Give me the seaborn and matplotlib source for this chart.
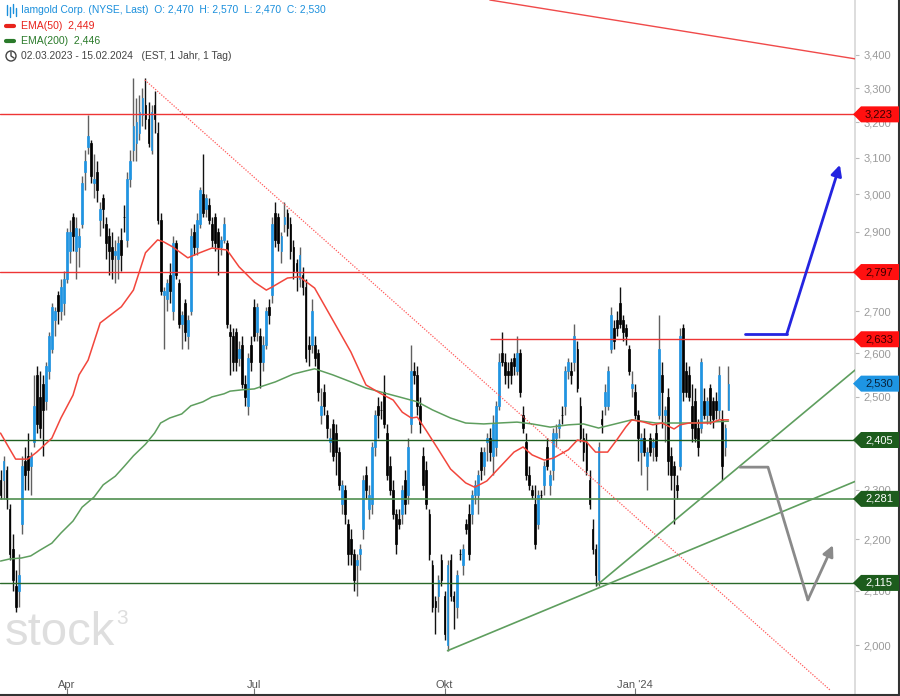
import numpy as np
import pandas as pd
import matplotlib
matplotlib.use("Agg")
import matplotlib.pyplot as plt
import matplotlib.ticker as mticker
from matplotlib.patches import Polygon, Circle
from matplotlib.lines import Line2D
from matplotlib.transforms import IdentityTransform
import seaborn as sns

# ── data: daily OHLC, Iamgold (NYSE), 02.03.2023 - 15.02.2024 ───────────────
holidays = ["2023-04-07", "2023-05-29", "2023-06-19", "2023-07-04", "2023-09-04",
            "2023-11-23", "2023-12-25", "2024-01-01", "2024-01-15"]

open_ = [
    2.32, 2.32, 2.34, 2.26, 2.18, 2.11, 2.10, 2.23, 2.36, 2.37,
    2.35, 2.40, 2.55, 2.50, 2.53, 2.49, 2.56, 2.61, 2.68, 2.74,
    2.70, 2.72, 2.78, 2.85, 2.94, 2.85, 2.86, 2.92, 3.06, 3.13,
    3.14, 3.03, 3.06, 2.93, 2.99, 2.92, 2.89, 2.86, 2.84, 2.83,
    2.88, 2.94, 2.88, 3.04, 3.12, 3.14, 3.17, 3.22, 3.25, 3.21,
    3.12, 3.25, 3.17, 2.93, 2.74, 2.73, 2.79, 2.70, 2.87, 2.77,
    2.67, 2.72, 2.64, 2.70, 2.90, 2.86, 2.92, 3.00, 2.96, 2.97,
    2.92, 2.94, 2.90, 2.86, 2.88, 2.87, 2.65, 2.64, 2.65, 2.59,
    2.62, 2.53, 2.48, 2.62, 2.71, 2.65, 2.64, 2.58, 2.62, 2.71,
    2.74, 2.95, 2.94, 2.85, 2.92, 2.95, 2.92, 2.86, 2.82, 2.78,
    2.79, 2.76, 2.62, 2.62, 2.62, 2.60, 2.46, 2.51, 2.46, 2.40,
    2.44, 2.42, 2.38, 2.27, 2.30, 2.23, 2.20, 2.17, 2.15, 2.17,
    2.22, 2.33, 2.26, 2.27, 2.39, 2.48, 2.47, 2.51, 2.42, 2.35,
    2.30, 2.25, 2.24, 2.25, 2.32, 2.29, 2.44, 2.56, 2.55, 2.48,
    2.37, 2.34, 2.25, 2.15, 2.08, 2.09, 2.16, 2.09, 2.00, 2.16,
    2.09, 2.07, 2.17, 2.15, 2.23, 2.25, 2.25, 2.29, 2.29, 2.38,
    2.35, 2.40, 2.41, 2.37, 2.39, 2.48, 2.60, 2.58, 2.56, 2.58,
    2.59, 2.56, 2.60, 2.46, 2.40, 2.33, 2.30, 2.27, 2.23, 2.29,
    2.31, 2.39, 2.31, 2.34, 2.41, 2.43, 2.46, 2.48, 2.56, 2.56,
    2.58, 2.61, 2.48, 2.41, 2.40, 2.32, 2.22, 2.18, 2.12, 2.45,
    2.48, 2.48, 2.61, 2.66, 2.68, 2.72, 2.68, 2.66, 2.61, 2.52,
    2.51, 2.46, 2.38, 2.41, 2.35, 2.41, 2.39, 2.42, 2.46, 2.55,
    2.46, 2.50, 2.37, 2.35, 2.31, 2.35, 2.66, 2.56, 2.55, 2.48,
    2.49, 2.43, 2.43, 2.49, 2.46, 2.52, 2.49, 2.49, 2.47, 2.45,
    2.39, 2.47,
]
high_ = [
    2.34, 2.37, 2.35, 2.27, 2.21, 2.14, 2.17, 2.37, 2.39, 2.42,
    2.38, 2.55, 2.57, 2.56, 2.55, 2.58, 2.65, 2.72, 2.71, 2.75,
    2.78, 2.80, 2.91, 2.93, 2.95, 2.94, 2.91, 3.05, 3.12, 3.22,
    3.15, 3.11, 3.09, 2.98, 3.00, 2.94, 2.91, 2.90, 2.88, 2.89,
    2.91, 2.97, 3.06, 3.12, 3.33, 3.27, 3.28, 3.30, 3.33, 3.26,
    3.25, 3.29, 3.20, 2.95, 2.76, 2.78, 2.82, 2.89, 2.88, 2.78,
    2.70, 2.73, 2.69, 2.91, 2.92, 2.95, 3.02, 3.11, 3.00, 2.99,
    2.94, 2.95, 2.91, 2.89, 2.94, 2.88, 2.67, 2.66, 2.66, 2.63,
    2.64, 2.55, 2.60, 2.64, 2.73, 2.72, 2.66, 2.64, 2.71, 2.73,
    2.94, 2.98, 2.95, 2.90, 2.98, 2.96, 2.94, 2.88, 2.83, 2.86,
    2.81, 2.78, 2.64, 2.73, 2.64, 2.61, 2.52, 2.53, 2.47, 2.43,
    2.45, 2.44, 2.39, 2.32, 2.31, 2.24, 2.22, 2.18, 2.17, 2.19,
    2.33, 2.35, 2.31, 2.40, 2.47, 2.50, 2.49, 2.55, 2.44, 2.37,
    2.32, 2.26, 2.26, 2.31, 2.34, 2.41, 2.62, 2.58, 2.57, 2.50,
    2.39, 2.36, 2.26, 2.16, 2.09, 2.13, 2.17, 2.10, 2.16, 2.17,
    2.10, 2.14, 2.18, 2.19, 2.24, 2.27, 2.30, 2.32, 2.34, 2.39,
    2.39, 2.42, 2.43, 2.46, 2.49, 2.60, 2.65, 2.60, 2.58, 2.59,
    2.60, 2.64, 2.61, 2.48, 2.42, 2.35, 2.31, 2.31, 2.30, 2.30,
    2.36, 2.41, 2.34, 2.43, 2.44, 2.45, 2.48, 2.57, 2.59, 2.58,
    2.67, 2.63, 2.50, 2.43, 2.42, 2.34, 2.24, 2.19, 2.40, 2.47,
    2.53, 2.57, 2.71, 2.68, 2.70, 2.76, 2.69, 2.67, 2.62, 2.56,
    2.53, 2.47, 2.42, 2.43, 2.39, 2.42, 2.41, 2.44, 2.69, 2.58,
    2.48, 2.52, 2.39, 2.36, 2.33, 2.66, 2.67, 2.58, 2.57, 2.53,
    2.52, 2.45, 2.59, 2.52, 2.50, 2.53, 2.50, 2.51, 2.57, 2.47,
    2.44, 2.57,
]
low_ = [
    2.28, 2.28, 2.26, 2.16, 2.10, 2.06, 2.07, 2.21, 2.30, 2.30,
    2.29, 2.39, 2.42, 2.41, 2.37, 2.47, 2.54, 2.60, 2.64, 2.67,
    2.68, 2.69, 2.77, 2.82, 2.85, 2.78, 2.81, 2.91, 3.01, 3.11,
    3.03, 2.99, 2.98, 2.89, 2.91, 2.83, 2.79, 2.78, 2.77, 2.78,
    2.80, 2.90, 2.86, 3.02, 3.09, 3.09, 3.15, 3.19, 3.18, 3.13,
    3.11, 3.17, 2.92, 2.74, 2.61, 2.70, 2.72, 2.68, 2.78, 2.66,
    2.61, 2.63, 2.61, 2.69, 2.84, 2.84, 2.91, 2.94, 2.94, 2.92,
    2.86, 2.85, 2.79, 2.84, 2.87, 2.66, 2.55, 2.56, 2.56, 2.57,
    2.52, 2.48, 2.46, 2.56, 2.63, 2.63, 2.52, 2.56, 2.61, 2.67,
    2.72, 2.86, 2.85, 2.82, 2.90, 2.89, 2.83, 2.78, 2.75, 2.76,
    2.74, 2.58, 2.57, 2.60, 2.57, 2.49, 2.44, 2.46, 2.41, 2.38,
    2.36, 2.33, 2.30, 2.25, 2.23, 2.15, 2.15, 2.10, 2.09, 2.14,
    2.20, 2.28, 2.24, 2.25, 2.37, 2.41, 2.45, 2.43, 2.32, 2.29,
    2.24, 2.17, 2.22, 2.23, 2.25, 2.27, 2.42, 2.53, 2.46, 2.42,
    2.30, 2.26, 2.16, 2.06, 2.02, 2.06, 2.11, 2.01, 1.99, 2.08,
    2.03, 2.05, 2.16, 2.13, 2.21, 2.16, 2.23, 2.27, 2.25, 2.32,
    2.33, 2.36, 2.36, 2.33, 2.37, 2.47, 2.57, 2.53, 2.52, 2.53,
    2.55, 2.55, 2.50, 2.42, 2.32, 2.30, 2.28, 2.18, 2.22, 2.28,
    2.29, 2.34, 2.29, 2.32, 2.39, 2.41, 2.44, 2.46, 2.54, 2.53,
    2.56, 2.51, 2.40, 2.36, 2.33, 2.26, 2.17, 2.11, 2.11, 2.42,
    2.46, 2.47, 2.60, 2.61, 2.64, 2.66, 2.63, 2.62, 2.55, 2.50,
    2.45, 2.36, 2.33, 2.37, 2.30, 2.37, 2.36, 2.36, 2.45, 2.43,
    2.40, 2.33, 2.30, 2.23, 2.28, 2.34, 2.49, 2.50, 2.49, 2.40,
    2.40, 2.37, 2.42, 2.45, 2.44, 2.44, 2.43, 2.45, 2.45, 2.32,
    2.37, 2.47,
]
close_ = [
    2.29, 2.36, 2.28, 2.17, 2.12, 2.07, 2.13, 2.35, 2.33, 2.34,
    2.37, 2.48, 2.44, 2.43, 2.47, 2.57, 2.64, 2.71, 2.70, 2.70,
    2.76, 2.78, 2.90, 2.90, 2.89, 2.91, 2.89, 3.03, 3.09, 3.16,
    3.05, 3.04, 3.01, 2.96, 2.96, 2.87, 2.85, 2.83, 2.85, 2.87,
    2.84, 2.94, 3.04, 3.09, 3.19, 3.20, 3.23, 3.27, 3.21, 3.14,
    3.23, 3.21, 2.93, 2.75, 2.75, 2.77, 2.75, 2.87, 2.79, 2.67,
    2.69, 2.65, 2.68, 2.89, 2.86, 2.93, 3.01, 2.95, 2.99, 2.93,
    2.88, 2.87, 2.86, 2.88, 2.92, 2.67, 2.64, 2.58, 2.58, 2.61,
    2.53, 2.50, 2.59, 2.58, 2.64, 2.71, 2.58, 2.62, 2.70, 2.69,
    2.92, 2.88, 2.87, 2.89, 2.94, 2.91, 2.85, 2.80, 2.80, 2.84,
    2.76, 2.59, 2.61, 2.70, 2.59, 2.51, 2.48, 2.48, 2.43, 2.41,
    2.37, 2.38, 2.31, 2.31, 2.25, 2.17, 2.17, 2.12, 2.16, 2.18,
    2.32, 2.30, 2.29, 2.39, 2.46, 2.46, 2.47, 2.44, 2.33, 2.30,
    2.25, 2.19, 2.23, 2.30, 2.27, 2.39, 2.56, 2.55, 2.48, 2.44,
    2.31, 2.27, 2.17, 2.07, 2.07, 2.12, 2.12, 2.02, 2.15, 2.09,
    2.08, 2.13, 2.17, 2.18, 2.22, 2.17, 2.29, 2.31, 2.33, 2.34,
    2.38, 2.41, 2.38, 2.44, 2.48, 2.58, 2.58, 2.55, 2.55, 2.55,
    2.57, 2.60, 2.51, 2.43, 2.33, 2.31, 2.29, 2.19, 2.29, 2.29,
    2.35, 2.35, 2.33, 2.42, 2.42, 2.44, 2.46, 2.56, 2.58, 2.55,
    2.64, 2.52, 2.41, 2.38, 2.34, 2.27, 2.18, 2.13, 2.39, 2.44,
    2.51, 2.56, 2.69, 2.63, 2.66, 2.67, 2.65, 2.64, 2.56, 2.53,
    2.46, 2.41, 2.41, 2.38, 2.38, 2.38, 2.40, 2.37, 2.61, 2.51,
    2.47, 2.36, 2.33, 2.33, 2.30, 2.64, 2.51, 2.51, 2.50, 2.43,
    2.41, 2.39, 2.58, 2.46, 2.49, 2.46, 2.45, 2.47, 2.55, 2.35,
    2.43, 2.53,
]

# EMA curves (bar number -> value)
ema50_idx = [0, 3, 5, 9, 12, 17, 20, 24, 26, 29, 33, 40, 44, 48, 52, 54, 57, 62, 66, 70,
             75, 79, 84, 88, 90, 95, 99, 104, 110, 116, 121, 126, 130, 133, 136, 138, 141,
             145, 149, 154, 157, 161, 165, 170, 173, 176, 180, 183, 188, 191, 194, 197,
             201, 204, 207, 209, 213, 216, 219, 223, 225, 228, 235, 238, 241]
ema50_val = [2.420, 2.386, 2.364, 2.364, 2.379, 2.409, 2.453, 2.504, 2.550, 2.584,
             2.672, 2.711, 2.752, 2.846, 2.879, 2.874, 2.861, 2.833, 2.846, 2.858,
             2.853, 2.810, 2.772, 2.752, 2.760, 2.782, 2.785, 2.757, 2.679, 2.603,
             2.527, 2.507, 2.493, 2.466, 2.453, 2.455, 2.425, 2.384, 2.343, 2.314,
             2.305, 2.318, 2.345, 2.379, 2.390, 2.373, 2.362, 2.366, 2.384, 2.405,
             2.401, 2.379, 2.379, 2.405, 2.433, 2.449, 2.444, 2.438, 2.442, 2.429,
             2.438, 2.442, 2.442, 2.449, 2.449]
ema200_idx = [0, 3, 7, 10, 13, 17, 20, 24, 27, 31, 34, 38, 41, 44, 48, 51, 53, 56, 60, 63,
              67, 70, 74, 76, 80, 84, 87, 91, 94, 97, 101, 104, 110, 116, 121, 127, 132,
              138, 143, 149, 154, 160, 165, 171, 176, 182, 188, 193, 198, 209, 217, 228, 241]
ema200_val = [2.157, 2.161, 2.163, 2.167, 2.178, 2.192, 2.212, 2.236, 2.264, 2.285,
              2.310, 2.328, 2.349, 2.371, 2.396, 2.420, 2.442, 2.453, 2.462, 2.480,
              2.489, 2.500, 2.507, 2.513, 2.516, 2.518, 2.525, 2.534, 2.543, 2.552,
              2.559, 2.564, 2.550, 2.534, 2.520, 2.509, 2.500, 2.489, 2.471, 2.453,
              2.442, 2.440, 2.442, 2.444, 2.440, 2.433, 2.438, 2.440, 2.431, 2.449,
              2.442, 2.442, 2.446]

# drawn analysis levels and tags
red_levels = [3.223, 2.797]
green_levels = [2.405, 2.281, 2.115]
resist_level, resist_from = 2.633, 162
tag_values = [3.223, 2.797, 2.633, 2.530, 2.405, 2.281, 2.115]
tag_kinds = ["red", "red", "red", "last", "green", "green", "green"]

# trend lines: (bar, price) pairs
down_top = ([162, 282.9], [3.572, 3.388])
down_dotted = ([47.8, 274.6], [3.324, 1.921])
up_line1 = ([148, 282.9], [1.990, 2.317])
up_line2 = ([197.5, 282.9], [2.111, 2.561])
blue_path = ([246.4, 260.3, 277.9], [2.645, 2.645, 3.080])
gray_path = ([244.8, 254.1, 267.3, 275.6], [2.347, 2.347, 2.083, 2.188])

y_ticks = [2.0, 2.1, 2.2, 2.3, 2.4, 2.5, 2.6, 2.7, 2.8, 2.9, 3.0, 3.1, 3.2, 3.3, 3.4]
hidden_ticks = [2.4, 2.8]          # fully covered by price tags
month_labels = {4: "Apr", 7: "Jul", 10: "Okt", 1: "Jan '24"}

# ── build frame ──────────────────────────────────────────────────────────────
dates = pd.bdate_range("2023-03-02", "2024-02-15", freq="C", holidays=holidays)
n = min(len(dates), len(open_))
df = pd.DataFrame({"date": dates[:n], "open": open_[:n], "high": high_[:n],
                   "low": low_[:n], "close": close_[:n]})
df["bar"] = np.arange(n)
df["up"] = df["close"] > df["open"]

BLUE = "#1e95e3"
W, H = 900, 696

sns.set_theme(style="white")
plt.rcParams["font.family"] = ["Liberation Sans", "DejaVu Sans"]

fig = plt.figure(figsize=(9, 6.96), dpi=100)
ax = fig.add_axes([0, 2 / H, 855 / W, 694 / H])
ax.set_yscale("log")
ax.set_ylim(1.914, 3.572)
ax.set_xlim(-0.17, 282.9)

# watermark
fig.text(5 / W, 51 / H, "stock", fontsize=34, color="#dedede", va="baseline", zorder=0)
fig.text(116 / W, 72 / H, "3", fontsize=15, color="#dedede", va="baseline", zorder=0)

# levels
for v in red_levels:
    ax.axhline(v, color="#ee3535", lw=1, zorder=4)
ax.hlines(resist_level, resist_from, 282.9, color="#ee3535", lw=1, zorder=4)
ax.axhline(green_levels[0], color="#1f5f1f", lw=1, zorder=4)
ax.axhline(green_levels[1], color="#4f8f4f", lw=1.2, zorder=4)
ax.axhline(green_levels[2], color="#2a6a2a", lw=1, zorder=4)

# candles
wick_col = np.where(df["up"], "#606060", "#111111")
body_col = np.where(df["up"], BLUE, "#000000")
ax.vlines(df["bar"], df["low"], df["high"], colors=wick_col, lw=1, zorder=3)
ax.bar(df["bar"], (df["close"] - df["open"]).abs(), bottom=df[["open", "close"]].min(axis=1),
       width=0.6, color=body_col, edgecolor=body_col, linewidth=0.5, zorder=3)

# EMA lines
sns.lineplot(x=ema200_idx, y=ema200_val, ax=ax, color="#5e9e5e", lw=1.1,
             estimator=None, sort=False, zorder=5)
sns.lineplot(x=ema50_idx, y=ema50_val, ax=ax, color="#f2463c", lw=1.1,
             estimator=None, sort=False, zorder=5)

# trend lines
ax.plot(*down_top, color="#f04a4a", lw=1, zorder=4)
ax.plot(*down_dotted, color="#ff5a5a", lw=0.9, ls=(0, (1, 1.2)), zorder=4)
ax.plot(*up_line1, color="#5e9e5e", lw=1.2, zorder=4)
ax.plot(*up_line2, color="#5e9e5e", lw=1.2, zorder=4)

# scenario arrows
ax.plot(blue_path[0][:2], blue_path[1][:2], color="#2424e0", lw=2, zorder=6)
ax.annotate("", xy=(blue_path[0][2], blue_path[1][2]), xytext=(blue_path[0][1], blue_path[1][1]),
            arrowprops=dict(arrowstyle="-|>", color="#2424e0", lw=2, mutation_scale=16,
                            shrinkA=0, shrinkB=0), zorder=6)
ax.plot(gray_path[0][:3], gray_path[1][:3], color="#8a8a8a", lw=2, zorder=6)
ax.annotate("", xy=(gray_path[0][3], gray_path[1][3]), xytext=(gray_path[0][2], gray_path[1][2]),
            arrowprops=dict(arrowstyle="-|>", color="#8a8a8a", lw=2, mutation_scale=16,
                            shrinkA=0, shrinkB=0), zorder=6)

# axes styling
for side in ["top", "left", "bottom"]:
    ax.spines[side].set_visible(False)
ax.spines["right"].set_color("#d8d8d8")
ax.yaxis.tick_right()
ax.yaxis.set_major_locator(mticker.FixedLocator(y_ticks))
ax.yaxis.set_minor_locator(mticker.NullLocator())


def fmt_price(v, pos):
    if any(abs(v - h) < 1e-9 for h in hidden_ticks):
        return ""
    return f"{v:.3f}".replace(".", ",")


ax.yaxis.set_major_formatter(mticker.FuncFormatter(fmt_price))
ax.tick_params(axis="y", which="major", right=True, length=3, width=0.8, color="#bbbbbb",
               labelsize=8, labelcolor="#9a9a9a", pad=3)

first_of_month = df.groupby(df["date"].dt.to_period("M"))["bar"].min()
tick_bars, tick_labels = [], []
for per, b in first_of_month.items():
    if per.month in month_labels and b > 0:
        tick_bars.append(b)
        tick_labels.append(month_labels[per.month])
ax.set_xticks(tick_bars)
ax.set_xticklabels(tick_labels)
ax.xaxis.set_minor_locator(mticker.NullLocator())
ax.tick_params(axis="x", which="major", bottom=True, direction="in", length=4, width=0.8,
               color="#777777", labelsize=8, labelcolor="#555555", pad=-10)

# price tags on the right
tag_style = {"red": ("#ff1010", "#3a0000"), "last": ("#1e95e3", "#08223a"),
             "green": ("#1d5c1d", "#ffffff")}
for v, kind in zip(tag_values, tag_kinds):
    face, tc = tag_style[kind]
    y = ax.transData.transform((0, v))[1]
    pts = [(853, y), (861, y + 8), (899, y + 8), (899, y - 8), (861, y - 8)]
    fig.add_artist(Polygon(pts, closed=True, facecolor=face, edgecolor="none",
                           transform=IdentityTransform(), zorder=10))
    fig.text(879 / W, y / H, f"{v:.3f}".replace(".", ","), ha="center", va="center",
             fontsize=8, color=tc, zorder=11)


# header / legend
def ytop(px):
    return (H - px) / H


fig.text(21 / W, ytop(10), "Iamgold Corp. (NYSE, Last)  O: 2,470  H: 2,570  L: 2,470  C: 2,530",
         fontsize=7.4, color="#1a8fdc", va="center")
fig.text(21 / W, ytop(26), "EMA(50)  2,449", fontsize=7.6, color="#e8231c", va="center")
fig.text(21 / W, ytop(41), "EMA(200)  2,446", fontsize=7.6, color="#2a7a2a", va="center")
fig.text(21 / W, ytop(56), "02.03.2023 - 15.02.2024   (EST, 1 Jahr, 1 Tag)",
         fontsize=7.4, color="#444444", va="center")

for x0, yt, yb in [(7, 5, 15), (10, 7, 17), (13, 4, 13), (16, 8, 16)]:
    fig.add_artist(Line2D([x0, x0], [H - yt, H - yb], color="#1a8fdc", lw=1,
                          transform=IdentityTransform()))
fig.add_artist(Line2D([6, 14], [H - 26, H - 26], color="#e8231c", lw=3,
                      transform=IdentityTransform()))
fig.add_artist(Line2D([6, 14], [H - 41, H - 41], color="#2a7a2a", lw=3,
                      transform=IdentityTransform()))
fig.add_artist(Circle((11, H - 56), 5, facecolor="none", edgecolor="#444444", lw=1,
                      transform=IdentityTransform()))
fig.add_artist(Line2D([11, 11, 14], [H - 52, H - 56, H - 58], color="#444444", lw=1,
                      transform=IdentityTransform()))

# frame at the bottom and right edge
fig.add_artist(Line2D([0, 899], [1, 1], color="#333333", lw=1.5, transform=IdentityTransform()))
fig.add_artist(Line2D([899, 899], [1, 696], color="#333333", lw=1.5, transform=IdentityTransform()))

fig.savefig("out.png", dpi=100)
print(len(dates), len(open_))
